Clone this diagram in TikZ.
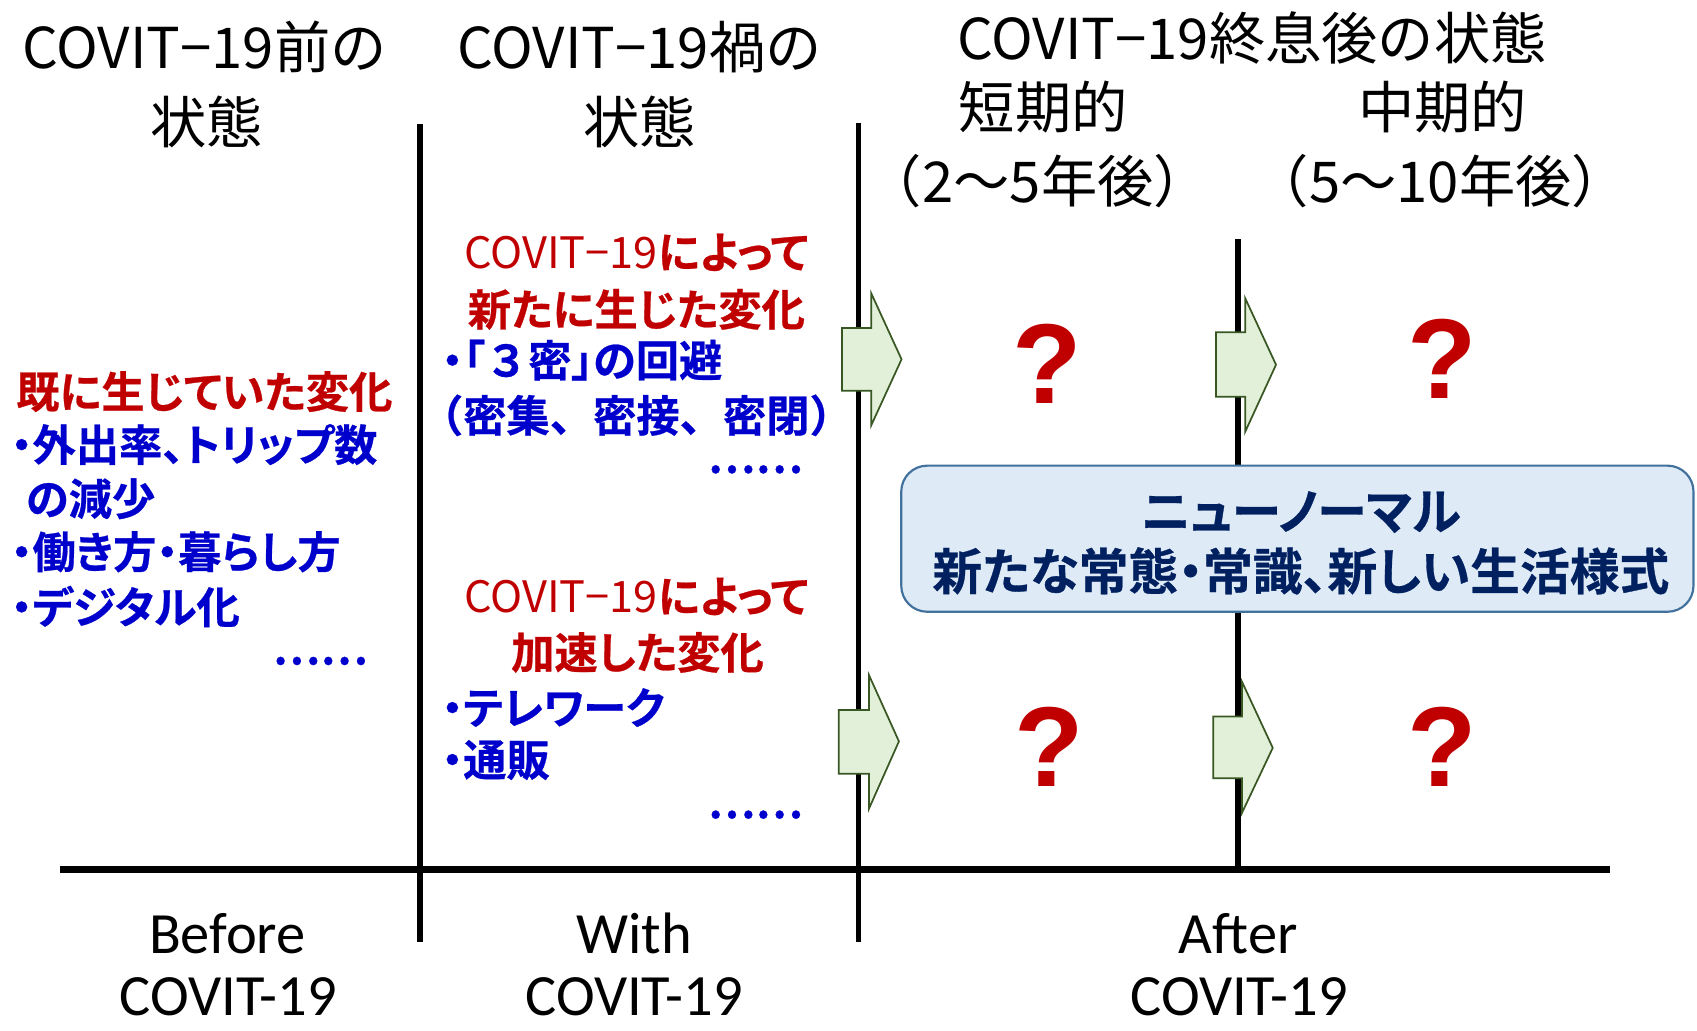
\documentclass[tikz,border=0pt]{standalone}
\usepackage{fontspec}
\setmainfont{Carlito}
\newfontfamily\jp[RawFeature=+palt]{Noto Sans CJK JP}
\newfontfamily\jpb[RawFeature=+palt, FakeBold=0.6]{Noto Sans CJK JP Bold}
\newfontfamily\jpbn[FakeBold=0.6]{Noto Sans CJK JP Bold}
\newfontfamily\jpt{Noto Sans CJK JP}
\newfontfamily\qf{Liberation Sans Bold}
\newcommand\fsz[1]{\fontsize{#1}{#1}\selectfont}
\definecolor{cred}{RGB}{192,0,0}
\definecolor{cblue}{RGB}{0,0,204}
\definecolor{cnavy}{RGB}{0,32,96}
\definecolor{arrfill}{RGB}{226,240,217}
\definecolor{arrline}{RGB}{56,87,35}
\definecolor{boxfill}{RGB}{222,235,247}
\definecolor{boxline}{RGB}{65,113,156}
\tikzset{
  txt/.style={inner sep=0pt, outer sep=0pt},
  titletxt/.style={txt, anchor=base, font=\jpt\fsz{52}},
  redtxt/.style={txt, anchor=base, text=cred, font=\jpb\fsz{40}},
  bluetxt/.style={txt, anchor=base west, text=cblue, font=\jpb\fsz{40}},
  dotstxt/.style={txt, anchor=base east, text=cblue, font=\jpb\fsz{40}},
  labtxt/.style={txt, anchor=base, font=\fsz{54}},
  qmark/.style={txt, anchor=center, text=cred, font=\qf\fsz{105}},
  boxtxt/.style={txt, anchor=base, text=cnavy, font=\jpb\fsz{46}},
  thinline/.style={line width=5pt, black},
  axisline/.style={line width=6.5pt, black},
  blockarr/.style={fill=arrfill, draw=arrline, line width=1.6pt, line join=miter},
  newbox/.style={fill=boxfill, draw=boxline, line width=2pt, rounded corners=24pt}
}
\newcommand\barrow[8]{%
  \path[blockarr] (#1,#4) -- (#2,#4) -- (#2,#6) -- (#3,#8) -- (#2,#7) -- (#2,#5) -- (#1,#5) -- cycle;}
\begin{document}
\begin{tikzpicture}[x=1pt,y=-1pt]
\useasboundingbox (0,0) rectangle (1568,952);
% coordinates for lines
\coordinate (v1t) at (388,115);
\coordinate (v1b) at (388,870);
\coordinate (v2t) at (793,114);
\coordinate (v2b) at (793,870);
\coordinate (v3t) at (1144,221);
\coordinate (v3b) at (1144,803);
\coordinate (axl) at (55,803);
\coordinate (axr) at (1488,803);
\draw[thinline] (v1t) -- (v1b);
\draw[thinline] (v2t) -- (v2b);
\draw[thinline] (v3t) -- (v3b);
\draw[axisline] (axl) -- (axr);

% titles
\node[titletxt] (t1a) at (189,63) {COVIT−19前の};
\node[titletxt] (t1b) at (191,133) {状態};
\node[titletxt] (t2a) at (591,63) {COVIT−19禍の};
\node[titletxt] (t2b) at (591,133) {状態};
\node[titletxt] (t3) at (1157,55) {COVIT−19終息後の状態};
\node[titletxt] (t4) at (964,119) {短期的};
\node[titletxt] (t5) at (1333,119) {中期的};
\node[titletxt] (t6) at (959,187) {（2～5年後）};
\node[titletxt] (t7) at (1331,187) {（5～10年後）};

% left block
\node[bluetxt, text=cred] (l1) at (15,377) {既に生じていた変化};
\node[bluetxt] (l2) at (10,426) {・外出率、トリップ数};
\node[bluetxt] (l3) at (24,476) {の減少};
\node[bluetxt] (l4) at (10,525) {・働き方・暮らし方};
\node[bluetxt] (l5) at (10,576) {・デジタル化};
\node[dotstxt] (l6) at (340,614) {……};

% middle top block
\node[redtxt] (m1) at (588,248) {{\jp COVIT−19}によって};
\node[redtxt] (m2) at (588,301) {新たに生じた変化};
\node[bluetxt] (m3) at (408,348) {・「{\jpbn ３}密」の回避};
\node[bluetxt, font=\jpbn\fsz{40}] (m4) at (388,399) {（密集、密接、密閉）};
\node[dotstxt] (m5) at (742,437) {……};

% middle bottom block
\node[redtxt] (n1) at (588,566) {{\jp COVIT−19}によって};
\node[redtxt] (n2) at (589,618) {加速した変化};
\node[bluetxt] (n3) at (408,669) {・テレワーク};
\node[bluetxt] (n4) at (408,717) {・通販};
\node[dotstxt] (n5) at (742,756) {……};

% block arrows
\barrow{778}{805}{833}{303}{361}{271}{393}{332}
\barrow{1123.5}{1150.5}{1179}{307}{366.5}{275.5}{399}{337}
\barrow{775}{803}{830.6}{656}{715}{624}{747}{685}
\barrow{1121}{1147.6}{1176}{662}{719}{630}{751}{691}

% question marks
\node[qmark] (q1) at (968,336) {?};
\node[qmark] (q2) at (1333,332) {?};
\node[qmark] (q3) at (969,690) {?};
\node[qmark] (q4) at (1333,690) {?};

% new normal box
\node[newbox, minimum width=732pt, minimum height=135pt, inner sep=0pt] (nb) at (1198.75,497.75) {};
\node[boxtxt] (nb1) at (1202,489.5) {ニューノーマル};
\node[boxtxt] (nb2) at (1202,545) {新たな常態・常識、新しい生活様式};

% bottom labels
\node[labtxt] (b1) at (210,881) {Before};
\node[labtxt] (b2) at (211,938) {COVIT-19};
\node[labtxt] (w1) at (586,881) {With};
\node[labtxt] (w2) at (586,938) {COVIT-19};
\node[labtxt] (a1) at (1144,881) {After};
\node[labtxt] (a2) at (1145,938) {COVIT-19};
\end{tikzpicture}
\end{document}
